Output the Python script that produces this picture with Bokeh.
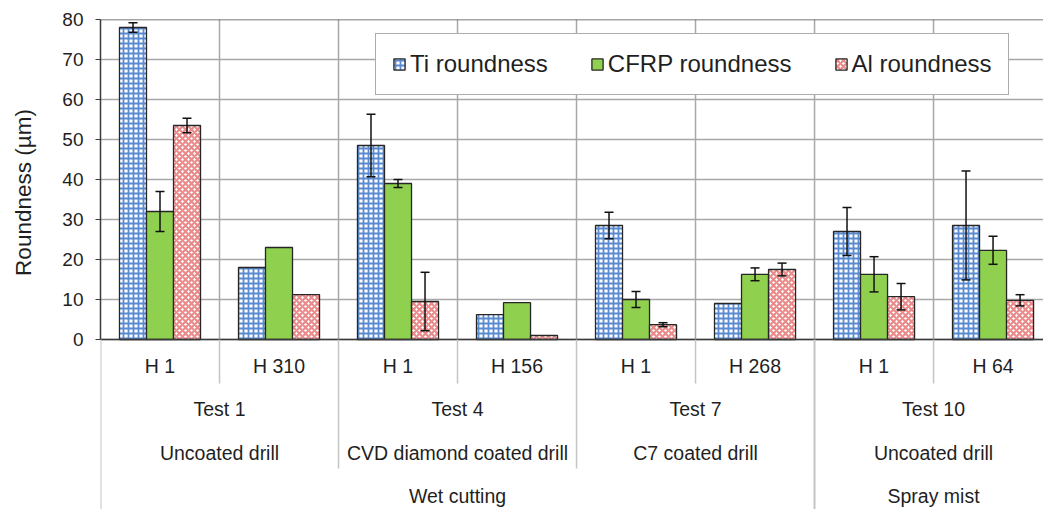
import math
from bokeh.plotting import figure
from bokeh.layouts import row
from bokeh.models import (ColumnDataSource, Whisker, TeeHead, Legend, LegendItem,
                          FixedTicker, Range1d)
from bokeh.core.properties import value
from bokeh.embed import file_html
from bokeh.resources import INLINE

# ---- data -------------------------------------------------------------
holes = ["H 1", "H 310", "H 1", "H 156", "H 1", "H 268", "H 1", "H 64"]
tests = ["Test 1", "Test 4", "Test 7", "Test 10"]
drills = ["Uncoated drill", "CVD diamond coated drill", "C7 coated drill", "Uncoated drill"]
cooling = ["Wet cutting", "Spray mist"]
cooling_tests = [3, 1]          # number of tests run under each cooling mode

ti = [78.0, 18.0, 48.5, 6.2, 28.5, 9.0, 27.0, 28.5]
ti_err = [1.2, 0, 7.8, 0, 3.3, 0, 6.0, 13.6]
cfrp = [32.0, 23.0, 39.0, 9.2, 10.0, 16.3, 16.3, 22.3]
cfrp_err = [5.0, 0, 1.0, 0, 2.0, 1.6, 4.4, 3.5]
al = [53.5, 11.2, 9.5, 1.0, 3.7, 17.5, 10.7, 9.8]
al_err = [1.8, 0, 7.3, 0, 0.5, 1.6, 3.3, 1.4]

y_ticks = [0, 10, 20, 30, 40, 50, 60, 70, 80]
y_title = "Roundness (µm)"

# ---- layout constants ---------------------------------------------------
FONT = "Liberation Sans"
TXT = "#1f1f1f"
n = len(holes)
holes_per_test = n // len(tests)
bw = 0.227                      # bar width in category units
depth = 42.5                    # room below the value axis for the label rows
hole_row, test_row, drill_row, cool_row = -6.5, -17.25, -28.25, -39.0
hole_sep, test_sep = -11.0, -32.25
title_w = 50                    # strip on the left holding the axis title

y_rng = Range1d(-depth, y_ticks[-1])

p = figure(width=1043 - title_w, height=509, output_backend="svg", toolbar_location=None,
           x_range=Range1d(0, 7.924), y_range=y_rng,
           x_axis_location=None, min_border_left=50, min_border_right=0,
           min_border_top=19, min_border_bottom=0)
p.outline_line_color = None
p.background_fill_color = "white"
p.border_fill_color = "white"
p.xgrid.visible = False

ax = p.yaxis[0]
ax.bounds = (y_ticks[0], y_ticks[-1])
ax.ticker = FixedTicker(ticks=y_ticks)
ax.minor_tick_line_color = None
ax.major_tick_out = 5
ax.major_tick_in = 0
ax.axis_line_color = "#3a3a3a"
ax.axis_line_width = 1.5
ax.major_tick_line_color = "#3a3a3a"
ax.major_tick_line_width = 1.2
ax.major_label_text_font = FONT
ax.major_label_text_font_size = "19px"
ax.major_label_text_color = TXT
ax.major_label_standoff = 12

p.ygrid.ticker = FixedTicker(ticks=y_ticks)
p.ygrid.grid_line_color = "#a8a8a8"
p.ygrid.grid_line_width = 1.5

# vertical grid lines between categories
bounds = list(range(1, n + 1))
p.segment(x0=bounds, y0=[0] * len(bounds), x1=bounds, y1=[y_ticks[-1]] * len(bounds),
          line_color="#a8a8a8", line_width=1.5)
# top border of the plot area
p.segment(x0=[0], y0=[y_ticks[-1]], x1=[n], y1=[y_ticks[-1]], line_color="#4a4a4a", line_width=1.6)

# ---- bars -----------------------------------------------------------------
centers = [i + 0.5 for i in range(n)]
src = ColumnDataSource(dict(
    x_ti=[c - bw for c in centers], x_cf=centers, x_al=[c + bw for c in centers],
    ti=ti, cfrp=cfrp, al=al))

r_ti = p.vbar(x="x_ti", top="ti", width=bw, bottom=0, source=src,
              fill_color="white", hatch_pattern="cross", hatch_color="#5a8ad0",
              hatch_scale=5, hatch_weight=1.8,
              line_color="#262626", line_width=1.3)
r_cf = p.vbar(x="x_cf", top="cfrp", width=bw, bottom=0, source=src,
              fill_color="#8fd14f", line_color="#262626", line_width=1.3)
r_al = p.vbar(x="x_al", top="al", width=bw, bottom=0, source=src,
              fill_color="white", hatch_pattern="diagonal_cross", hatch_color="#ea8a8a",
              hatch_scale=6, hatch_weight=2.2,
              line_color="#262626", line_width=1.3)

# category axis line
p.segment(x0=[0], y0=[0], x1=[n], y1=[0], line_color="#3a3a3a", line_width=1.6)

# ---- error bars -------------------------------------------------------------
ex, lo, hi = [], [], []
for xs, vals, errs in ((src.data["x_ti"], ti, ti_err),
                       (src.data["x_cf"], cfrp, cfrp_err),
                       (src.data["x_al"], al, al_err)):
    for x, v, e in zip(xs, vals, errs):
        if e > 0:
            ex.append(x)
            lo.append(v - e)
            hi.append(v + e)
err_src = ColumnDataSource(dict(x=ex, lower=lo, upper=hi))
p.add_layout(Whisker(base="x", lower="lower", upper="upper", source=err_src,
                     level="annotation", line_color="#111111", line_width=1.5,
                     upper_head=TeeHead(size=9, line_color="#111111", line_width=1.5),
                     lower_head=TeeHead(size=9, line_color="#111111", line_width=1.5)))

# ---- hierarchical category labels below the axis ---------------------------
sep_col = "#c4c4c4"
hx = [t * holes_per_test + 1 for t in range(len(tests))]
p.segment(x0=hx, y0=[0] * len(hx), x1=hx, y1=[hole_sep] * len(hx), line_color=sep_col, line_width=1.5)
cool_edges = [0]
for k in cooling_tests:
    cool_edges.append(cool_edges[-1] + k * holes_per_test)
tx = [t * holes_per_test for t in range(1, len(tests)) if t * holes_per_test not in cool_edges]
p.segment(x0=tx, y0=[0] * len(tx), x1=tx, y1=[test_sep] * len(tx), line_color=sep_col, line_width=1.5)
p.segment(x0=cool_edges, y0=[0] * len(cool_edges), x1=cool_edges, y1=[-depth] * len(cool_edges),
          line_color=sep_col, line_width=2.0)

lbl_kw = dict(text_align="center", text_baseline="middle", text_font=value(FONT),
              text_font_size="19.5px", text_color=TXT)
p.text(x=centers, y=[hole_row] * n, text=holes, **lbl_kw)
tc = [t * holes_per_test + holes_per_test / 2 for t in range(len(tests))]
p.text(x=tc, y=[test_row] * len(tests), text=tests, **lbl_kw)
p.text(x=tc, y=[drill_row] * len(drills), text=drills, **lbl_kw)
cc = [(cool_edges[i] + cool_edges[i + 1]) / 2 for i in range(len(cooling))]
p.text(x=cc, y=[cool_row] * len(cooling), text=cooling, **lbl_kw)

# ---- legend ------------------------------------------------------------------
legend = Legend(items=[LegendItem(label="Ti roundness", renderers=[r_ti]),
                       LegendItem(label="CFRP roundness", renderers=[r_cf]),
                       LegendItem(label="Al roundness", renderers=[r_al])],
                orientation="horizontal", location=(275, 414))
legend.label_text_font = FONT
legend.label_text_font_size = "24px"
legend.label_text_color = TXT
legend.glyph_width = 14
legend.glyph_height = 14
legend.label_standoff = 4
legend.spacing = 42
legend.padding = 16
legend.margin = 0
legend.border_line_color = "#5a5a5a"
legend.border_line_width = 1.5
legend.background_fill_color = "white"
legend.background_fill_alpha = 1
p.add_layout(legend)

# ---- value axis title, in a narrow strip sharing the vertical scale ----------
t = figure(width=title_w, height=509, output_backend="svg", toolbar_location=None,
           x_range=Range1d(0, title_w), y_range=y_rng,
           x_axis_location=None, y_axis_location=None,
           min_border_left=0, min_border_right=0, min_border_top=19, min_border_bottom=0)
t.outline_line_color = None
t.xgrid.visible = False
t.ygrid.visible = False
t.border_fill_color = "white"
t.text(x=[23], y=[36.75], text=[y_title], angle=math.pi / 2,
       text_align="center", text_baseline="middle", text_font=value(FONT),
       text_font_size="22.5px", text_color=TXT)

layout = row(t, p, spacing=0)
open("out.html", "w").write(file_html(layout, INLINE))
